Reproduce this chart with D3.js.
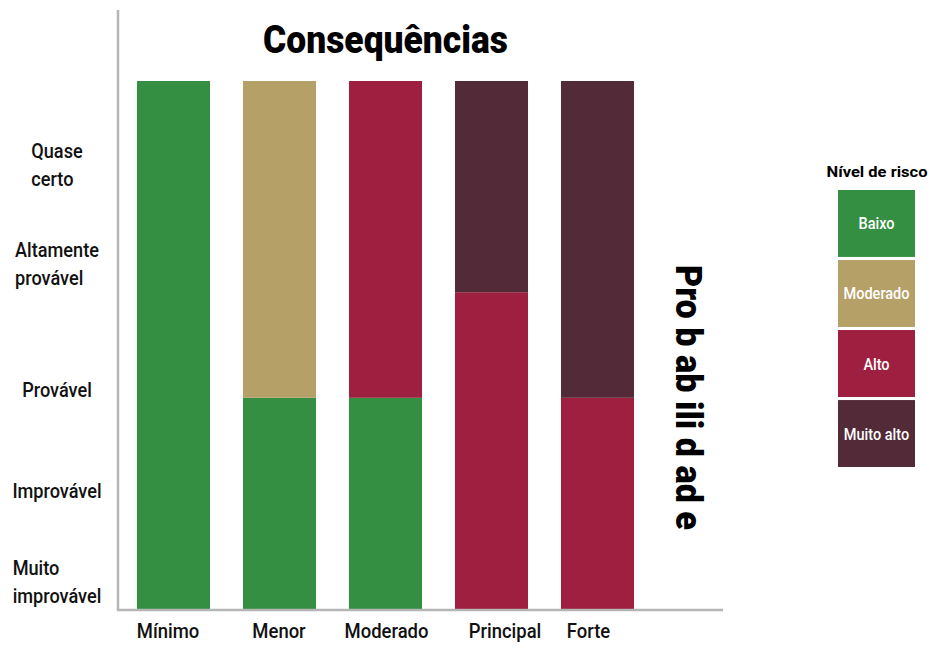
<!DOCTYPE html>
<html><head><meta charset="utf-8">
<script src="https://cdn.jsdelivr.net/npm/d3@7"></script>
<style>body{margin:0;background:#fff}svg{display:block}text{font-family:Roboto,"Liberation Sans",sans-serif}</style>
</head><body><svg id="c" width="933" height="648"></svg>
<script>
const categories = ["Mínimo","Menor","Moderado","Principal","Forte"];
const levels = ["Baixo","Moderado","Alto","Muito alto"];
const baixo     = [5,2,2,0,0];
const moderado  = [0,3,0,0,0];
const alto      = [0,0,3,3,2];
const muitoAlto = [0,0,0,2,3];
const probLabels = [["Muito","improvável"],["Improvável"],["Provável"],["Altamente","provável"],["Quase","certo"]];
const probPositions = [0.26,1.12,2.07,3.27,4.2];
const colors = ["#358f42","#b5a068","#9e1f3f","#532a37"];
const labelShift = [-5.5,-0.5,1,13.5,-9];

const svg = d3.select("#c");
function condense(sel, f){ sel.each(function(){ const w=this.getComputedTextLength(); d3.select(this).attr("textLength",w*f).attr("lengthAdjust","spacingAndGlyphs"); }); }

const rows = categories.map((c,i)=>({cat:c, "Baixo":baixo[i], "Moderado":moderado[i], "Alto":alto[i], "Muito alto":muitoAlto[i]}));
const stack = d3.stack().keys(levels)(rows);

const x = d3.scaleBand().domain(categories).range([137,634]).paddingInner(0.311).paddingOuter(0);
const y = d3.scaleLinear().domain([0,5]).range([609,81]);
const color = d3.scaleOrdinal().domain(levels).range(colors);

// bars
svg.append("g").selectAll("g").data(stack).join("g").attr("fill",d=>color(d.key))
  .selectAll("rect").data(d=>d).join("rect")
  .attr("x",d=>x(d.data.cat)).attr("width",x.bandwidth())
  .attr("y",d=>y(d[1])).attr("height",d=>y(d[0])-y(d[1]));

// axes lines
svg.append("line").attr("x1",118).attr("x2",118).attr("y1",10).attr("y2",y(0)+1).attr("stroke","#b5b5b5").attr("stroke-width",2.5);
svg.append("line").attr("x1",117).attr("x2",723).attr("y1",y(0)+1).attr("y2",y(0)+1).attr("stroke","#b5b5b5").attr("stroke-width",2.5);

// x labels
const xa = d3.axisBottom(x).tickSize(0).tickPadding(0);
const gx = svg.append("g").attr("transform",`translate(0,${y(0)})`).call(xa);
gx.select(".domain").remove();
gx.selectAll("text").attr("dy",0).attr("y",28.5).attr("x",(d,i)=>labelShift[i])
  .attr("font-size",20.5).attr("font-weight",500).attr("fill","#111").attr("font-family","Roboto");
condense(gx.selectAll("text"),0.9);

// y labels
probLabels.forEach((lines,i)=>{
  const g = svg.append("g");
  const cy = y(probPositions[i]);
  const n = lines.length;
  const t = g.selectAll("text").data(lines).join("text")
    .attr("y",(d,j)=>cy+(j-(n-1)/2)*28+7)
    .attr("font-size",19.5).attr("font-weight",500).attr("fill","#111").text(d=>d);
  condense(t,0.93);
  let w=0; t.each(function(){w=Math.max(w,+this.getAttribute("textLength"));});
  t.attr("x",57-w/2);
});

// title
svg.append("text").attr("x",263).attr("y",53).attr("font-size",39).attr("font-weight",900)
  .attr("textLength",245).attr("lengthAdjust","spacingAndGlyphs").attr("fill","#000").text("Consequências");

// rotated axis title
svg.append("text").attr("transform","translate(676,265) rotate(90)").attr("font-size",37).attr("font-weight",900)
  .attr("textLength",265).attr("lengthAdjust","spacingAndGlyphs").attr("fill","#000").text("Pro b ab ili d ad e");

// legend
const lg = svg.append("g");
lg.append("text").attr("x",877).attr("y",177).attr("text-anchor","middle").attr("font-size",15.5).attr("font-weight",700)
  .attr("textLength",101).attr("lengthAdjust","spacingAndGlyphs").text("Nível de risco");
const ly = d3.scaleBand().domain(levels).range([190,467]).paddingInner(0.044);
lg.selectAll("rect").data(levels).join("rect").attr("x",838).attr("width",77)
  .attr("y",d=>ly(d)).attr("height",ly.bandwidth()).attr("fill",d=>color(d));
const lt = lg.selectAll("text.l").data(levels).join("text").attr("class","l").attr("x",876.5)
  .attr("y",d=>ly(d)+ly.bandwidth()/2+6).attr("text-anchor","middle").attr("font-size",16.5).attr("font-weight",500).attr("fill","#fff").text(d=>d);
condense(lt,0.88);
</script></body></html>
